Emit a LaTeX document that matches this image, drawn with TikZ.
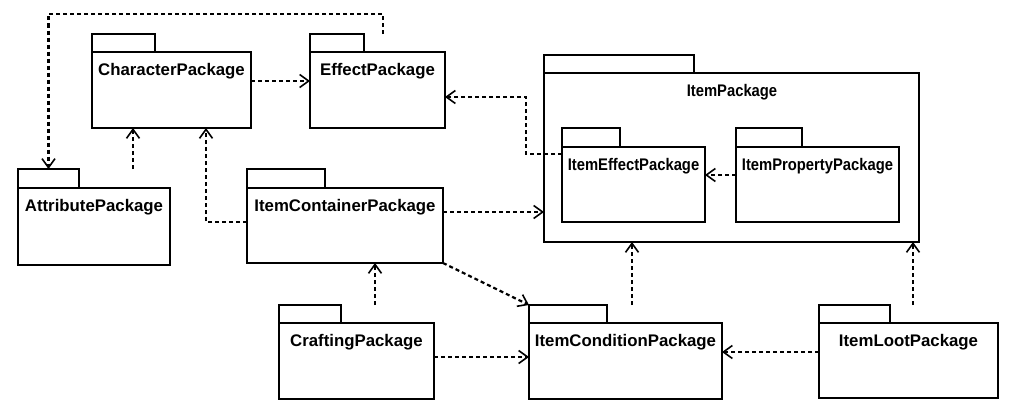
\documentclass[tikz,border=0pt]{standalone}
\usepackage{fontspec}
\setmainfont{Liberation Sans}
\usetikzlibrary{arrows.meta}
\newcommand\narrowtext[1]{\scalebox{0.88}[1]{#1}}
\tikzset{
  pkgshape/.style={draw=black, line width=2.6pt, fill=white, inner sep=0pt, outer sep=0pt},
  pkglabel/.style={font=\fontsize{16.8}{19}\selectfont\bfseries, inner sep=0pt},
  dep/.style={draw=black, line width=2.2pt, dash pattern=on 4pt off 3pt,
    -{Straight Barb[length=9pt,width=13pt,line width=1.6pt]}}
}
% name, x1, ytab, xtab2, ybody, x2, y2, text
\newcommand\pkgbox[8]{%
  \node[pkgshape, minimum width={#4pt-#2pt}, minimum height={#5pt-#3pt}]
    (#1-tab) at ({(#2+#4)/2},{(#3+#5)/2}) {};
  \node[pkgshape, minimum width={#6pt-#2pt}, minimum height={#7pt-#5pt}]
    (#1) at ({(#2+#6)/2},{(#5+#7)/2}) {};
  \node[pkglabel] (#1-l) at ({(#2+#6)/2},{#5+19}) {#8};
}
\begin{document}
\begin{tikzpicture}[x=1pt,y=-1pt]
\useasboundingbox[fill=white] (0,0) rectangle (1024,415);
\pkgbox{cp}{92}{34}{155}{52}{251}{128}{CharacterPackage}
\pkgbox{ep}{310}{34}{364}{52}{445}{128}{EffectPackage}
\pkgbox{at}{18}{169}{79}{188}{170}{265}{AttributePackage}
\pkgbox{ic}{247}{169}{325}{188}{443}{263}{ItemContainerPackage}
\node[pkgshape, minimum width=150pt, minimum height=18pt] (ip-tab) at (619,64) {};
\node[pkgshape, minimum width=375pt, minimum height=169pt] (ip) at (731.5,157.5) {};
\node[pkglabel] (ip-l) at (732,92) {\narrowtext{ItemPackage}};
\pkgbox{ie}{562}{128}{620}{147}{705}{222}{\narrowtext{ItemEffectPackage}}
\pkgbox{iprop}{736}{128}{802}{147}{899}{222}{\narrowtext{ItemPropertyPackage}}
\pkgbox{cr}{279}{305}{341}{323}{434}{399}{CraftingPackage}
\pkgbox{icond}{529}{305}{607}{323}{722}{399}{ItemConditionPackage}
\pkgbox{il}{819}{305}{890}{323}{998}{398}{ItemLootPackage}

\draw[dep] (383,0 |- ep-tab.north) -- (383,14) -| (at-tab.north);
\draw[dep] (133,0 |- at-tab.north) -- (133,0 |- cp.south);
\draw[dep] (ic.west |- 0,222) -| (206,0 |- cp.south);
\draw[dep] (cp.east |- 0,81) -- (ep.west |- 0,81);
\draw[dep] (ie.west |- 0,154) -- ++(-36,0) |- (ep.east |- 0,97);
\draw[dep] (ic.east |- 0,212) -- (ip.west |- 0,212);
\draw[dep] (iprop.west |- 0,175) -- (ie.east |- 0,175);
\draw[dep] (375,0 |- cr-tab.north) -- (375,0 |- ic.south);
\draw[dep] (cr.east |- 0,357) -- (icond.west |- 0,357);
\draw[dep] (ic.south east) -- (icond-tab.north west);
\draw[dep] (632,0 |- icond-tab.north) -- (632,0 |- ip.south);
\draw[dep] (il.west |- 0,352) -- (icond.east |- 0,352);
\draw[dep] (913,0 |- il-tab.north) -- (913,0 |- ip.south);
\end{tikzpicture}
\end{document}
